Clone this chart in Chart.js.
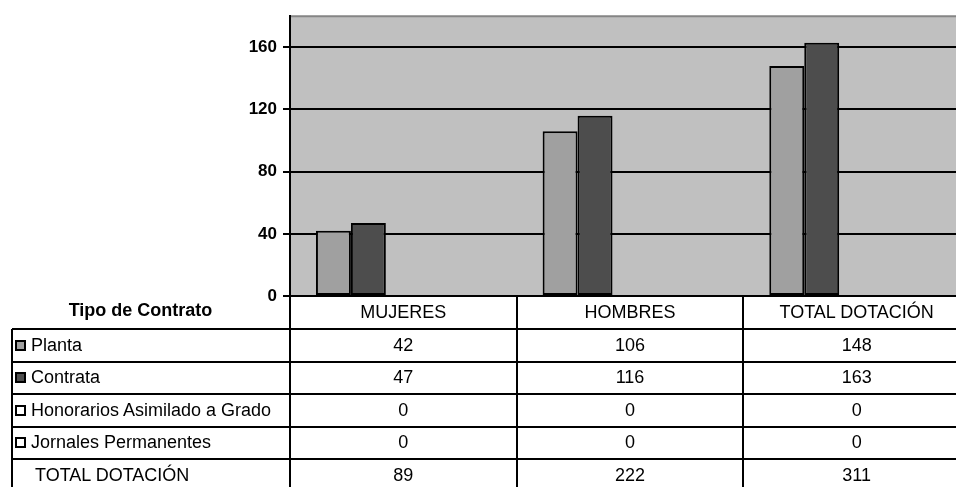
<!DOCTYPE html>
<html>
<head>
<meta charset="utf-8">
<script src="https://cdn.jsdelivr.net/npm/chart.js@4/dist/chart.umd.min.js"></script>
<style>
  html, body { margin: 0; padding: 0; background: #fff; overflow: hidden; }
  #wrap { position: relative; width: 956px; height: 487px; overflow: hidden; }
  #chartCanvas { position: absolute; left: 0; top: 0; }
  .line { position: absolute; background: #000; }
  .cell { position: absolute; display: flex; align-items: center; justify-content: center;
          font-family: "Liberation Sans", Arial, sans-serif; font-size: 18px; color: #000; white-space: nowrap; }
  .cell.left { justify-content: flex-start; }
  .key { display: inline-block; width: 7px; height: 7px; border: 2px solid #000; margin-right: 5px; }
</style>
</head>
<body>
<div id="wrap">
  <canvas id="chartCanvas" width="980" height="487"></canvas>
  <div id="table"></div>
</div>
<script>
// data
const categories = ['MUJERES', 'HOMBRES', 'TOTAL DOTACIÓN'];
const seriesNames = ['Planta', 'Contrata', 'Honorarios Asimilado a Grado', 'Jornales Permanentes'];
const planta = [42, 106, 148];
const contrata = [47, 116, 163];
const honorarios = [0, 0, 0];
const jornales = [0, 0, 0];
const totalDotacion = [89, 222, 311];
const yTicks = [0, 40, 80, 120, 160];

const seriesColors = ['#A0A0A0', '#4D4D4D', '#FFFFFF', '#FFFFFF'];
const FONT = '"Liberation Sans", Arial, sans-serif';

// plot background + grey top edge, like the excel chart
const plotBg = {
    id: 'plotBg',
    beforeDraw(chart) {
        const { ctx, chartArea: a } = chart;
        ctx.save();
        ctx.fillStyle = '#C0C0C0';
        ctx.fillRect(a.left, a.top, a.right - a.left, a.bottom - a.top);
        ctx.strokeStyle = '#858585';
        ctx.lineWidth = 2;
        ctx.beginPath();
        ctx.moveTo(a.left, a.top);
        ctx.lineTo(a.right, a.top);
        ctx.stroke();
        ctx.restore();
    }
};

function renderChart() {
    const ctx = document.getElementById('chartCanvas').getContext('2d');
    const allSeries = [planta, contrata, honorarios, jornales];
    const datasets = allSeries.map((d, i) => ({
        label: seriesNames[i],
        data: d,
        backgroundColor: seriesColors[i],
        borderColor: '#000',
        borderWidth: i < 2 ? 2 : 0,
        borderSkipped: false
    }));
    // total row is a series too but with no fill (it only takes a slot in each group)
    datasets.push({
        label: 'TOTAL DOTACIÓN',
        data: totalDotacion,
        backgroundColor: 'rgba(0,0,0,0)',
        borderWidth: 0
    });

    const chart = new Chart(ctx, {
        type: 'bar',
        data: { labels: categories, datasets: datasets },
        options: {
            responsive: false,
            animation: false,
            layout: { padding: { left: 0, top: 14, right: 10, bottom: 191 } },
            plugins: { legend: { display: false }, tooltip: { enabled: false } },
            datasets: { bar: { categoryPercentage: 0.771, barPercentage: 1 } },
            scales: {
                x: {
                    ticks: { display: false },
                    grid: { display: false },
                    border: { display: false },
                    afterFit: s => { s.height = 0; }
                },
                y: {
                    min: 0,
                    max: 180,
                    afterBuildTicks: s => { s.ticks = yTicks.map(v => ({ value: v })); },
                    afterFit: s => { s.width = 290; },
                    ticks: {
                        color: '#000',
                        padding: 6,
                        font: { family: FONT, size: 17, weight: 'bold' }
                    },
                    grid: { color: '#000', lineWidth: 2, tickLength: 7, tickColor: '#000', tickWidth: 2 },
                    border: { color: '#000', width: 2 }
                }
            }
        },
        plugins: [plotBg]
    });
    buildTable(chart, allSeries);
}

// data table under the plot, aligned on the x scale
function buildTable(chart, allSeries) {
    const box = document.getElementById('table');
    const a = chart.chartArea;
    const step = (a.right - a.left) / categories.length;
    const colX = [12, a.left];
    for (let i = 1; i <= categories.length; i++) colX.push(a.left + step * i);
    const rowY = [a.bottom, a.bottom + 33];
    for (let i = 0; i < 5; i++) rowY.push(rowY[rowY.length - 1] + 32.5);
    const bottom = 500;

    function line(x, y, w, h) {
        const d = document.createElement('div');
        d.className = 'line';
        d.style.left = x + 'px'; d.style.top = y + 'px';
        d.style.width = w + 'px'; d.style.height = h + 'px';
        box.appendChild(d);
    }
    function cell(x0, x1, y0, y1, html, cls) {
        const d = document.createElement('div');
        d.className = 'cell' + (cls ? ' ' + cls : '');
        d.style.left = x0 + 'px'; d.style.top = y0 + 'px';
        d.style.width = (x1 - x0) + 'px'; d.style.height = (y1 - y0) + 'px';
        d.innerHTML = html;
        box.appendChild(d);
    }

    // grid lines
    for (let r = 1; r < rowY.length; r++) line(colX[0], rowY[r] - 1, colX[colX.length - 1] - colX[0] + 1, 2);
    line(colX[0] - 1, rowY[1], 2, bottom - rowY[1]);
    for (let c = 1; c < colX.length; c++) line(colX[c] - 1, rowY[0], 2, bottom - rowY[0]);

    // header
    cell(colX[0], colX[1] - 21, rowY[0] - 3, rowY[1] - 2, '<b>Tipo de Contrato</b>');
    categories.forEach((c, i) => cell(colX[i + 1], colX[i + 2], rowY[0], rowY[1], c));

    // series rows
    const rows = allSeries.concat([totalDotacion]);
    const names = seriesNames.concat(['TOTAL DOTACIÓN']);
    rows.forEach((vals, r) => {
        const y0 = rowY[r + 1], y1 = rowY[r + 2];
        const label = r < seriesNames.length
            ? '<span class="key" style="background:' + seriesColors[r] + '"></span>' + names[r]
            : '<span style="display:inline-block;width:20px"></span>' + names[r];
        cell(colX[0] + 3, colX[1], y0, y1, label, 'left');
        vals.forEach((v, i) => cell(colX[i + 1], colX[i + 2], y0, y1, String(v)));
    });
}

document.addEventListener('DOMContentLoaded', renderChart);
</script>
</body>
</html>
